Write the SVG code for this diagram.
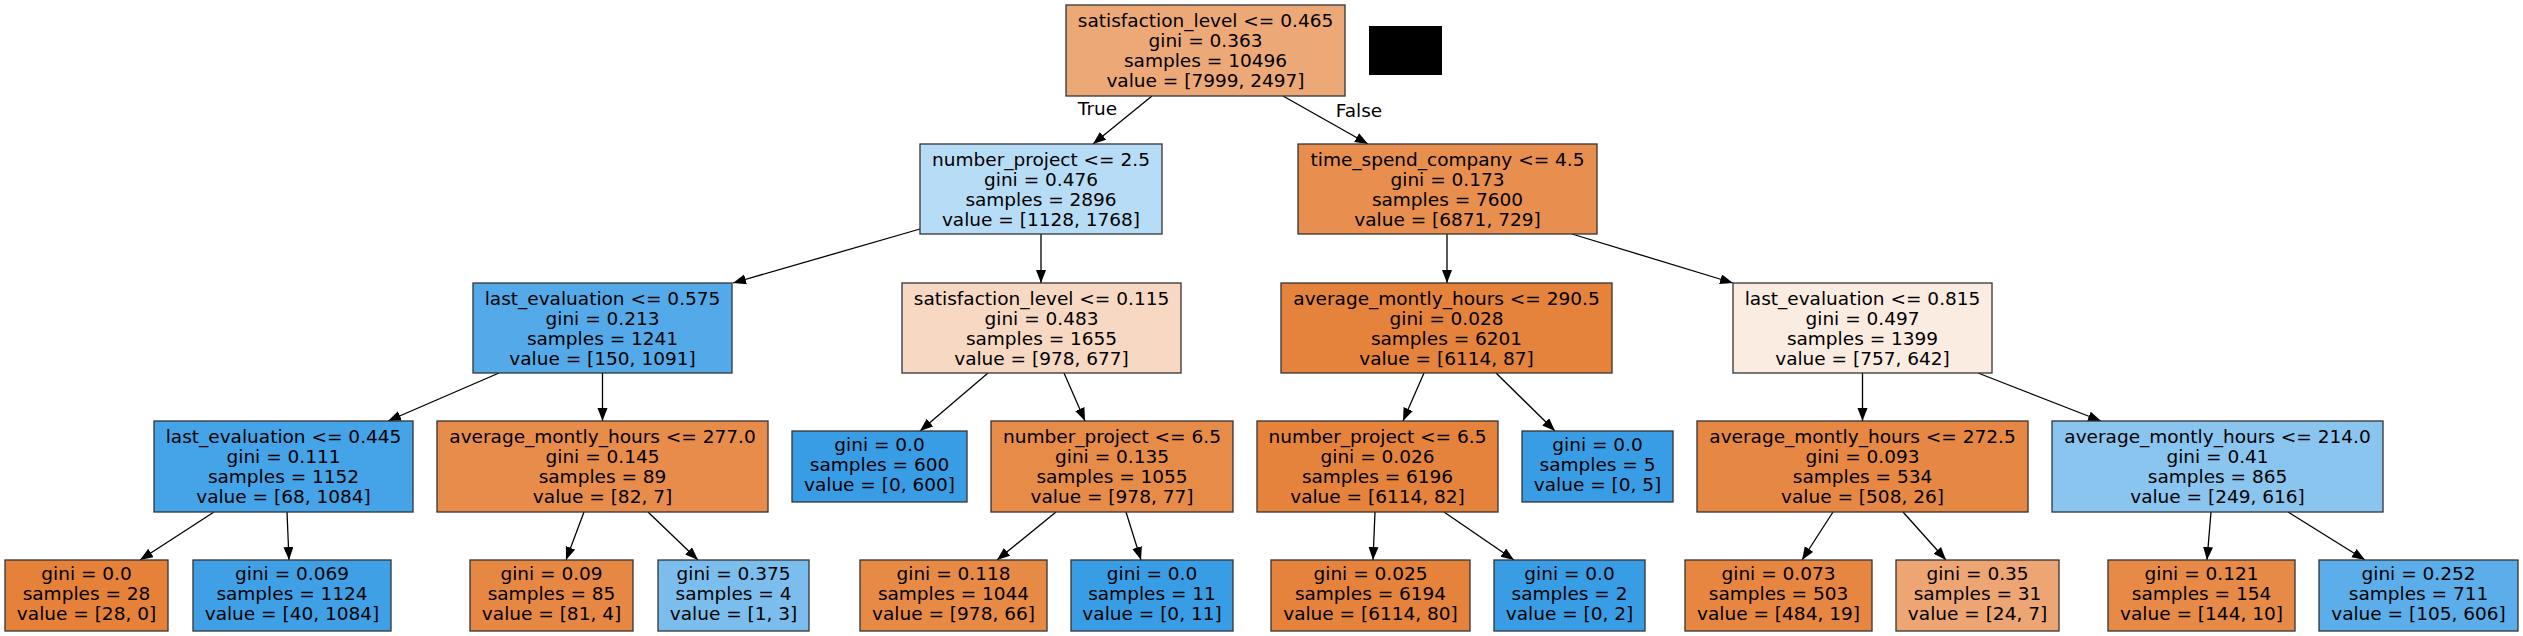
<svg xmlns="http://www.w3.org/2000/svg" width="2523" height="636" viewBox="0 0 2523 636">
<style>
.n rect{stroke:#333;stroke-width:1.3}
.n text{font-family:"DejaVu Sans","Liberation Sans",sans-serif;font-size:18.5px;text-anchor:middle;fill:#000}
.lbl{font-family:"DejaVu Sans","Liberation Sans",sans-serif;font-size:18.5px;text-anchor:middle;fill:#000}
#edges line{stroke:#000;stroke-width:1.3;marker-end:url(#ah)}
</style>
<defs>
<marker id="ah" markerUnits="userSpaceOnUse" markerWidth="14" markerHeight="11" refX="13" refY="5" orient="auto">
<path d="M0,0 L13,5 L0,10 z" fill="#000"/>
</marker>
</defs>
<rect width="2523" height="636" fill="#fff"/>
<g id="edges">
<line x1="1152" y1="96" x2="1093" y2="144"/>
<line x1="1283" y1="96" x2="1368" y2="144"/>
<line x1="920" y1="229" x2="733" y2="283"/>
<line x1="1041" y1="234" x2="1041" y2="283"/>
<line x1="1447" y1="234" x2="1447" y2="283"/>
<line x1="1572" y1="234" x2="1733" y2="283"/>
<line x1="499" y1="373" x2="388" y2="421"/>
<line x1="602.5" y1="373" x2="602.5" y2="421"/>
<line x1="988" y1="373" x2="920" y2="431"/>
<line x1="1064" y1="373" x2="1085" y2="421"/>
<line x1="1424" y1="373" x2="1403" y2="421"/>
<line x1="1496" y1="373" x2="1555" y2="431"/>
<line x1="1862.5" y1="373" x2="1862.5" y2="421"/>
<line x1="1978" y1="373" x2="2101" y2="421"/>
<line x1="214" y1="512" x2="140" y2="560"/>
<line x1="287" y1="512" x2="289" y2="560"/>
<line x1="584" y1="512" x2="566" y2="560"/>
<line x1="648" y1="512" x2="698" y2="560"/>
<line x1="1056" y1="512" x2="997" y2="560"/>
<line x1="1126" y1="512" x2="1141" y2="560"/>
<line x1="1375" y1="512" x2="1373" y2="560"/>
<line x1="1444" y1="512" x2="1514" y2="560"/>
<line x1="1833" y1="512" x2="1802" y2="560"/>
<line x1="1903" y1="512" x2="1946" y2="560"/>
<line x1="2211" y1="512" x2="2207" y2="560"/>
<line x1="2288" y1="512" x2="2365" y2="560"/>
</g>
<text class="lbl" x="1097.5" y="114.5">True</text>
<text class="lbl" x="1359" y="116.5">False</text>
<rect x="1369" y="26" width="73" height="49" fill="#000"/>

<g id="n0" class="n"><rect x="1066" y="5" width="279" height="91" fill="#eda877"/>
<text x="1205.5" y="26.5">satisfaction_level &lt;= 0.465</text><text x="1205.5" y="46.5">gini = 0.363</text><text x="1205.5" y="66.5">samples = 10496</text><text x="1205.5" y="86.5">value = [7999, 2497]</text></g>

<g id="n1" class="n"><rect x="920" y="144" width="242" height="90" fill="#b7dcf6"/>
<text x="1041" y="165.5">number_project &lt;= 2.5</text><text x="1041" y="185.5">gini = 0.476</text><text x="1041" y="205.5">samples = 2896</text><text x="1041" y="225.5">value = [1128, 1768]</text></g>

<g id="n2" class="n"><rect x="1298" y="144" width="299" height="90" fill="#e88e4e"/>
<text x="1447.5" y="165.5">time_spend_company &lt;= 4.5</text><text x="1447.5" y="185.5">gini = 0.173</text><text x="1447.5" y="205.5">samples = 7600</text><text x="1447.5" y="225.5">value = [6871, 729]</text></g>

<g id="n3" class="n"><rect x="473" y="283" width="259" height="90" fill="#54aae9"/>
<text x="602.5" y="304.5">last_evaluation &lt;= 0.575</text><text x="602.5" y="324.5">gini = 0.213</text><text x="602.5" y="344.5">samples = 1241</text><text x="602.5" y="364.5">value = [150, 1091]</text></g>

<g id="n4" class="n"><rect x="902" y="283" width="279" height="90" fill="#f7d8c2"/>
<text x="1041.5" y="304.5">satisfaction_level &lt;= 0.115</text><text x="1041.5" y="324.5">gini = 0.483</text><text x="1041.5" y="344.5">samples = 1655</text><text x="1041.5" y="364.5">value = [978, 677]</text></g>

<g id="n5" class="n"><rect x="1281" y="283" width="331" height="90" fill="#e5833c"/>
<text x="1446.5" y="304.5">average_montly_hours &lt;= 290.5</text><text x="1446.5" y="324.5">gini = 0.028</text><text x="1446.5" y="344.5">samples = 6201</text><text x="1446.5" y="364.5">value = [6114, 87]</text></g>

<g id="n6" class="n"><rect x="1733" y="283" width="259" height="90" fill="#fbece1"/>
<text x="1862.5" y="304.5">last_evaluation &lt;= 0.815</text><text x="1862.5" y="324.5">gini = 0.497</text><text x="1862.5" y="344.5">samples = 1399</text><text x="1862.5" y="364.5">value = [757, 642]</text></g>

<g id="n7" class="n"><rect x="154" y="421" width="259" height="91" fill="#45a3e7"/>
<text x="283.5" y="442.5">last_evaluation &lt;= 0.445</text><text x="283.5" y="462.5">gini = 0.111</text><text x="283.5" y="482.5">samples = 1152</text><text x="283.5" y="502.5">value = [68, 1084]</text></g>

<g id="n8" class="n"><rect x="437" y="421" width="331" height="91" fill="#e78c4a"/>
<text x="602.5" y="442.5">average_montly_hours &lt;= 277.0</text><text x="602.5" y="462.5">gini = 0.145</text><text x="602.5" y="482.5">samples = 89</text><text x="602.5" y="502.5">value = [82, 7]</text></g>

<g id="n9" class="n"><rect x="792" y="431" width="175" height="71" fill="#399de5"/>
<text x="879.5" y="451">gini = 0.0</text><text x="879.5" y="471">samples = 600</text><text x="879.5" y="491">value = [0, 600]</text></g>

<g id="n10" class="n"><rect x="991" y="421" width="242" height="91" fill="#e78b49"/>
<text x="1112" y="442.5">number_project &lt;= 6.5</text><text x="1112" y="462.5">gini = 0.135</text><text x="1112" y="482.5">samples = 1055</text><text x="1112" y="502.5">value = [978, 77]</text></g>

<g id="n11" class="n"><rect x="1257" y="421" width="241" height="91" fill="#e5833c"/>
<text x="1377.5" y="442.5">number_project &lt;= 6.5</text><text x="1377.5" y="462.5">gini = 0.026</text><text x="1377.5" y="482.5">samples = 6196</text><text x="1377.5" y="502.5">value = [6114, 82]</text></g>

<g id="n12" class="n"><rect x="1522" y="431" width="151" height="71" fill="#399de5"/>
<text x="1597.5" y="451">gini = 0.0</text><text x="1597.5" y="471">samples = 5</text><text x="1597.5" y="491">value = [0, 5]</text></g>

<g id="n13" class="n"><rect x="1697" y="421" width="331" height="91" fill="#e68843"/>
<text x="1862.5" y="442.5">average_montly_hours &lt;= 272.5</text><text x="1862.5" y="462.5">gini = 0.093</text><text x="1862.5" y="482.5">samples = 534</text><text x="1862.5" y="502.5">value = [508, 26]</text></g>

<g id="n14" class="n"><rect x="2052" y="421" width="331" height="91" fill="#89c5ef"/>
<text x="2217.5" y="442.5">average_montly_hours &lt;= 214.0</text><text x="2217.5" y="462.5">gini = 0.41</text><text x="2217.5" y="482.5">samples = 865</text><text x="2217.5" y="502.5">value = [249, 616]</text></g>

<g id="n15" class="n"><rect x="5" y="560" width="163" height="71" fill="#e58139"/>
<text x="86.5" y="580">gini = 0.0</text><text x="86.5" y="600">samples = 28</text><text x="86.5" y="620">value = [28, 0]</text></g>

<g id="n16" class="n"><rect x="193" y="560" width="198" height="71" fill="#40a0e6"/>
<text x="292" y="580">gini = 0.069</text><text x="292" y="600">samples = 1124</text><text x="292" y="620">value = [40, 1084]</text></g>

<g id="n17" class="n"><rect x="470" y="560" width="163" height="71" fill="#e68743"/>
<text x="551.5" y="580">gini = 0.09</text><text x="551.5" y="600">samples = 85</text><text x="551.5" y="620">value = [81, 4]</text></g>

<g id="n18" class="n"><rect x="658" y="560" width="151" height="71" fill="#7bbeee"/>
<text x="733.5" y="580">gini = 0.375</text><text x="733.5" y="600">samples = 4</text><text x="733.5" y="620">value = [1, 3]</text></g>

<g id="n19" class="n"><rect x="860" y="560" width="187" height="71" fill="#e78a46"/>
<text x="953.5" y="580">gini = 0.118</text><text x="953.5" y="600">samples = 1044</text><text x="953.5" y="620">value = [978, 66]</text></g>

<g id="n20" class="n"><rect x="1071" y="560" width="162" height="71" fill="#399de5"/>
<text x="1152" y="580">gini = 0.0</text><text x="1152" y="600">samples = 11</text><text x="1152" y="620">value = [0, 11]</text></g>

<g id="n21" class="n"><rect x="1271" y="560" width="199" height="71" fill="#e5833c"/>
<text x="1370.5" y="580">gini = 0.025</text><text x="1370.5" y="600">samples = 6194</text><text x="1370.5" y="620">value = [6114, 80]</text></g>

<g id="n22" class="n"><rect x="1494" y="560" width="151" height="71" fill="#399de5"/>
<text x="1569.5" y="580">gini = 0.0</text><text x="1569.5" y="600">samples = 2</text><text x="1569.5" y="620">value = [0, 2]</text></g>

<g id="n23" class="n"><rect x="1685" y="560" width="187" height="71" fill="#e68641"/>
<text x="1778.5" y="580">gini = 0.073</text><text x="1778.5" y="600">samples = 503</text><text x="1778.5" y="620">value = [484, 19]</text></g>

<g id="n24" class="n"><rect x="1896" y="560" width="163" height="71" fill="#eda673"/>
<text x="1977.5" y="580">gini = 0.35</text><text x="1977.5" y="600">samples = 31</text><text x="1977.5" y="620">value = [24, 7]</text></g>

<g id="n25" class="n"><rect x="2108" y="560" width="187" height="71" fill="#e78a47"/>
<text x="2201.5" y="580">gini = 0.121</text><text x="2201.5" y="600">samples = 154</text><text x="2201.5" y="620">value = [144, 10]</text></g>

<g id="n26" class="n"><rect x="2319" y="560" width="199" height="71" fill="#5baee9"/>
<text x="2418.5" y="580">gini = 0.252</text><text x="2418.5" y="600">samples = 711</text><text x="2418.5" y="620">value = [105, 606]</text></g>
</svg>
